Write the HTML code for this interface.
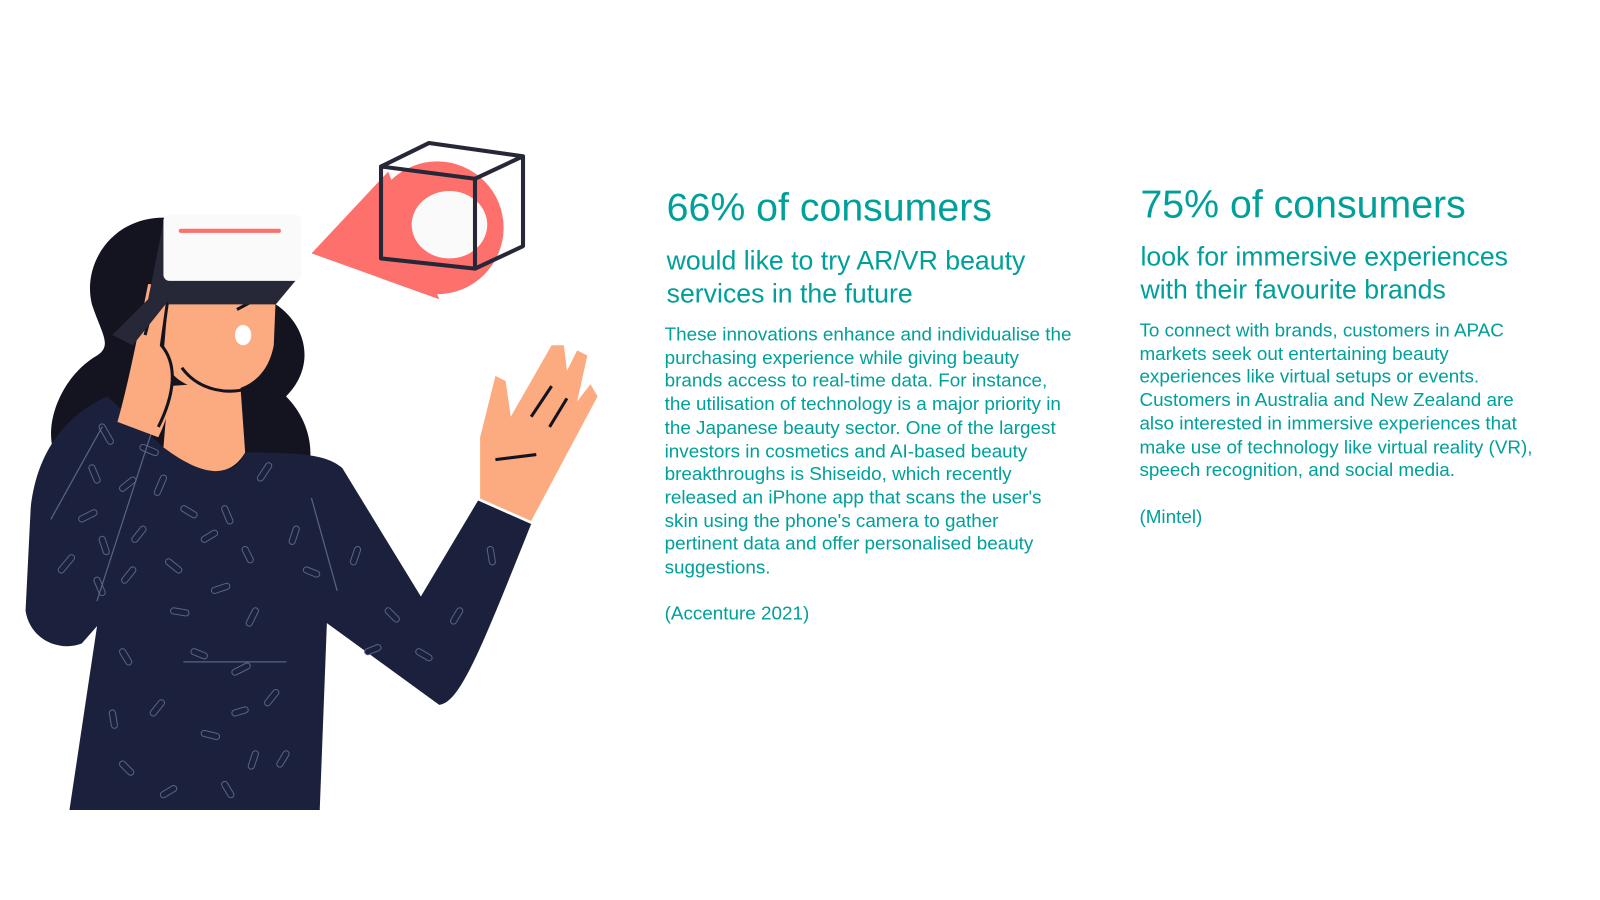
<!DOCTYPE html>
<html><head><meta charset="utf-8"><style>
body{margin:0;width:1600px;height:900px;background:#fff;position:relative;overflow:hidden;font-family:"Liberation Sans",sans-serif;color:#00a09a}
#wrap{position:absolute;left:0;top:0;width:1560px;height:878px;transform:scale(1.0256);transform-origin:0 0}
.t{position:absolute;white-space:nowrap}
.h{font-size:38.3px}
.s{font-size:26px;line-height:31.5px}
.b{font-size:18.4px;line-height:22.7px}
</style></head><body>
<div id="wrap">
<svg width="600" height="820" style="position:absolute;left:0;top:0" viewBox="0 0 600 820">
<g transform="translate(0 -2) scale(0.996)">
 <path d="M160 215 C110 215 80 260 90 300 C100 330 110 340 95 350 C60 370 40 420 55 450 C45 470 40 490 60 500 L300 470 C310 440 300 410 280 390 C310 360 300 320 270 300 L250 230 Z" fill="#141420"/>
 <path d="M105 390 C60 410 35 450 30 500 L25 600 C30 630 60 640 80 632 L95 615 L68 795 L313 795 L320 612 L430 692 C450 690 470 640 520 515 L468 492 L412 586 L335 460 C320 448 300 445 240 445 C230 470 200 470 160 440 Z" fill="#1b213c"/>
 <g fill="none" stroke-linecap="round">
  <path stroke="#5a6286" stroke-width="7" d="M100 420l8 14M140 440l12 5M90 460l5 12M120 480l10-8M160 470l-6 14M80 510l12-6M100 530l4 12M140 520l-8 10M180 500l10 6M60 560l10-12M95 570l5 12M130 560l-8 10M175 560l-10-8M220 500l5 12M255 470l8-12M290 520l-4 12M210 580l12-4M250 600l-6 12M190 640l10 4M230 660l12-6M270 680l-8 10M150 700l8-10M200 720l12 3M250 740l-4 12M120 750l8 8M160 780l10-6M220 770l6 10M300 560l10 4M350 540l-4 12M380 600l8 8M450 600l-6 10M480 540l2 12M360 640l10-4M410 640l10 6M200 530l10-6M240 540l5 10M170 600l12 2M120 640l6 10M230 700l10-3M280 740l-6 10M110 700l2 12"/>
  <path stroke="#1b213c" stroke-width="5" d="M100 420l8 14M140 440l12 5M90 460l5 12M120 480l10-8M160 470l-6 14M80 510l12-6M100 530l4 12M140 520l-8 10M180 500l10 6M60 560l10-12M95 570l5 12M130 560l-8 10M175 560l-10-8M220 500l5 12M255 470l8-12M290 520l-4 12M210 580l12-4M250 600l-6 12M190 640l10 4M230 660l12-6M270 680l-8 10M150 700l8-10M200 720l12 3M250 740l-4 12M120 750l8 8M160 780l10-6M220 770l6 10M300 560l10 4M350 540l-4 12M380 600l8 8M450 600l-6 10M480 540l2 12M360 640l10-4M410 640l10 6M200 530l10-6M240 540l5 10M170 600l12 2M120 640l6 10M230 700l10-3M280 740l-6 10M110 700l2 12"/>
  <path stroke="#5a6286" stroke-width="1.2" d="M50 510 L100 420 M95 590 L150 420 M305 490 L330 580 M180 650 L280 650"/>
 </g>
 <path d="M165 380 L235 375 L240 445 C225 470 200 470 160 440 Z" fill="#fcab80"/>
 <path d="M165 290 L270 292 L268 340 C262 372 240 385 215 385 C190 385 165 375 160 350 Z" fill="#fcab80"/>
 <path d="M145 280 L165 282 L158 340 C175 360 170 400 155 430 L115 415 C125 380 135 330 145 280Z" fill="#fcab80"/>
 <path d="M150 300 L142 330 M165 290 L158 340 C175 360 170 390 155 420" stroke="#141420" stroke-width="3" fill="none"/>
 <path d="M178 362 C195 385 225 390 250 380" stroke="#141420" stroke-width="3" fill="none"/>
 <ellipse cx="238" cy="330" rx="8" ry="10" fill="#fff"/>
 <path d="M232 305 L245 298" stroke="#141420" stroke-width="3"/>
 <path d="M160 220 L145 295 L110 330 L130 340 L170 290 Z" fill="#262838"/>
 <path d="M155 265 L295 270 L270 300 L165 300 Z" fill="#262838"/>
 <rect x="160" y="212" width="135" height="65" rx="6" fill="#fafafa"/>
 <rect x="175" y="226" width="100" height="4" rx="2" fill="#fd706b"/>
 <path d="M470 430 L470 490 L520 512 L585 390 L578 378 L565 395 L575 350 L565 345 L555 365 L552 340 L540 340 L500 410 L495 375 L485 370 Z" fill="#fcab80"/>
 <path d="M520 410 L540 380 M538 420 L555 392 M485 452 L525 447" stroke="#141420" stroke-width="3"/>
 <path d="M305 250 L380 170 L430 295 Z" fill="#fd706b"/>
 <circle cx="428" cy="225" r="65" fill="#fd706b"/>
 <ellipse cx="440" cy="222" rx="37" ry="33" fill="#fafafa"/>
 <g stroke="#262838" stroke-width="4" fill="none" stroke-linejoin="round">
  <path d="M373 165 L465 177 L465 265 L373 255 Z M373 165 L420 142 L512 155 L465 177 M512 155 L512 243 L465 265"/>
 </g>
</g>
</svg>
<div class="t h" style="left:650px;top:181px">66% of consumers</div>
<div class="t s" style="left:650px;top:239px">would like to try AR/VR beauty<br>services in the future</div>
<div class="t b" style="left:648px;top:315px">These innovations enhance and individualise the<br>purchasing experience while giving beauty<br>brands access to real-time data. For instance,<br>the utilisation of technology is a major priority in<br>the Japanese beauty sector. One of the largest<br>investors in cosmetics and AI-based beauty<br>breakthroughs is Shiseido, which recently<br>released an iPhone app that scans the user's<br>skin using the phone's camera to gather<br>pertinent data and offer personalised beauty<br>suggestions.<br><br>(Accenture 2021)</div>
<div class="t h" style="left:1112px;top:178px">75% of consumers</div>
<div class="t s" style="left:1112px;top:235px">look for immersive experiences<br>with their favourite brands</div>
<div class="t b" style="left:1111px;top:311px">To connect with brands, customers in APAC<br>markets seek out entertaining beauty<br>experiences like virtual setups or events.<br>Customers in Australia and New Zealand are<br>also interested in immersive experiences that<br>make use of technology like virtual reality (VR),<br>speech recognition, and social media.<br><br>(Mintel)</div>
</div>
</body></html>
